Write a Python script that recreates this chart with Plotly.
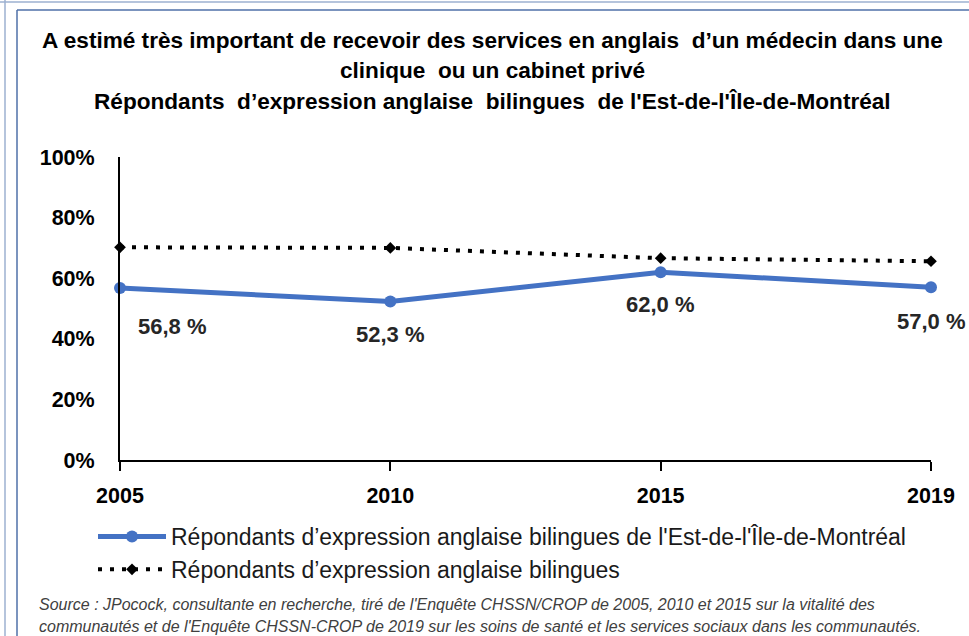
import plotly.graph_objects as go

years = ["2005", "2010", "2015", "2019"]
est_montreal = [56.8, 52.3, 62.0, 57.0]
bilingues = [70.2, 70.0, 66.6, 65.6]
label_text = ["56,8 %", "52,3 %", "62,0 %", "57,0 %"]
y_ticks = [0, 20, 40, 60, 80, 100]
y_tick_labels = ["0%", "20%", "40%", "60%", "80%", "100%"]

name1 = "Répondants d’expression anglaise bilingues de l'Est-de-l'Île-de-Montréal"
name2 = "Répondants d’expression anglaise bilingues"

FONT = "Liberation Sans, Arial, sans-serif"

W, H = 969, 636
L, R, T, B = 120, 38, 157, 176

fig = go.Figure()
fig.add_trace(go.Scatter(
    x=years, y=est_montreal, name=name1, mode="lines+markers",
    line=dict(color="#4472C4", width=5),
    marker=dict(symbol="circle", size=12, color="#4472C4"),
    cliponaxis=False,
))
fig.add_trace(go.Scatter(
    x=years, y=bilingues, name=name2, mode="lines+markers",
    line=dict(color="black", width=4, dash="4px,8px"),
    marker=dict(symbol="diamond", size=9, color="black"),
    cliponaxis=False,
))

xshifts = [52, 0, 0, 0]
yshifts = [-39, -33, -32, -34]
for i, (y, t, xs, ys) in enumerate(zip(est_montreal, label_text, xshifts, yshifts)):
    fig.add_annotation(x=i, y=y, text="<b>" + t + "</b>", showarrow=False, xshift=xs, yshift=ys,
                       font=dict(family=FONT, size=22, color="#262626"))

def px_x(p):
    return (p - L) / (W - L - R)

def px_y(p):
    return (H - B - p) / (H - T - B)

title_lines = [
    "<b>A estimé très important de recevoir des services en anglais  d’un médecin dans une</b>",
    "<b>clinique  ou un cabinet privé</b>",
    "<b>Répondants  d’expression anglaise  bilingues  de l'Est-de-l'Île-de-Montréal</b>",
]
for line, yy in zip(title_lines, [40, 71, 102]):
    fig.add_annotation(xref="paper", yref="paper", x=px_x(492), y=px_y(yy), text=line,
                       showarrow=False, xanchor="center", yanchor="middle",
                       font=dict(family=FONT, size=22.6, color="black"))

source_lines = [
    "<i>Source : JPocock, consultante en recherche, tiré de l'Enquête CHSSN/CROP de 2005, 2010 et 2015 sur la vitalité des</i>",
    "<i>communautés et de l'Enquête CHSSN-CROP de 2019 sur les soins de santé et les services sociaux dans les communautés.</i>",
]
for line, yy in zip(source_lines, [604, 626]):
    fig.add_annotation(xref="paper", yref="paper", x=px_x(37), y=px_y(yy), text=line,
                       showarrow=False, xanchor="left", yanchor="middle",
                       font=dict(family=FONT, size=16, color="#404040"))

# frame lines
frame = "#4F71A8"
light = "#9DB0D0"
shapes = [
    dict(type="line", xref="paper", yref="paper", x0=px_x(17), x1=px_x(969), y0=px_y(10), y1=px_y(10), line=dict(color=frame, width=1.5)),
    dict(type="line", xref="paper", yref="paper", x0=px_x(17), x1=px_x(17), y0=px_y(10), y1=px_y(636), line=dict(color=frame, width=1.5)),
    dict(type="line", xref="paper", yref="paper", x0=px_x(0), x1=px_x(969), y0=px_y(2), y1=px_y(2), line=dict(color=light, width=1.5)),
    dict(type="line", xref="paper", yref="paper", x0=px_x(5), x1=px_x(5), y0=px_y(0), y1=px_y(636), line=dict(color=light, width=1.5)),
]

fig.update_layout(
    width=W, height=H,
    margin=dict(l=L, r=R, t=T, b=B),
    paper_bgcolor="white", plot_bgcolor="white",
    font=dict(family=FONT, color="black"),
    shapes=shapes,
    showlegend=True,
    legend=dict(
        orientation="v", x=px_x(93), y=px_y(515), xanchor="left", yanchor="top",
        font=dict(family=FONT, size=23, color="#1a1a1a"),
        itemwidth=68, tracegroupgap=0, bgcolor="rgba(0,0,0,0)",
    ),
    xaxis=dict(
        type="category", range=[0, 3], showgrid=False, zeroline=False,
        showline=True, linecolor="black", linewidth=2,
        ticks="outside", ticklen=9, tickcolor="black", tickwidth=2,
        ticklabelstandoff=6,
        tickfont=dict(family=FONT, size=21.5, color="black"),
        tickprefix="<b>", ticksuffix="</b>",
    ),
    yaxis=dict(
        range=[0, 100], tickvals=y_ticks, ticktext=["<b>" + t + "</b>" for t in y_tick_labels],
        showgrid=False, zeroline=False, showline=True, linecolor="black", linewidth=2,
        ticks="", ticklabelstandoff=19,
        tickfont=dict(family=FONT, size=21.5, color="black"),
    ),
)

fig.write_html("out.html", config={"displayModeBar": False},
               post_script="document.body.style.margin='0';")
